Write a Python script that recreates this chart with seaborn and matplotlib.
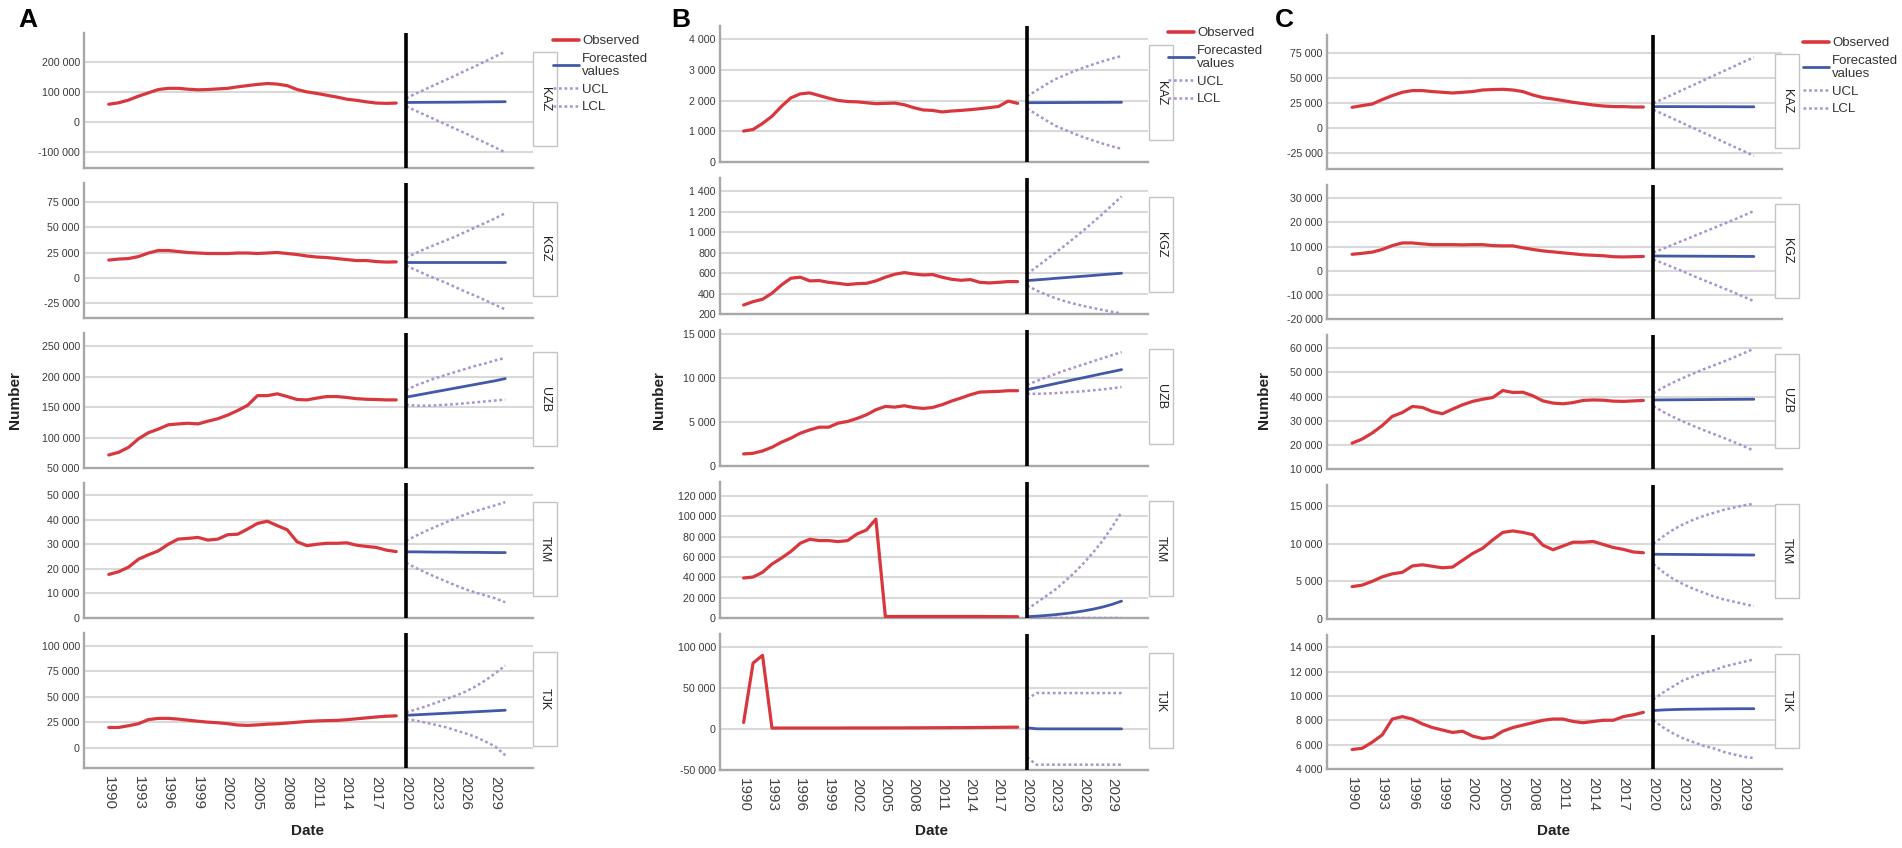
import matplotlib
matplotlib.use("Agg")
import matplotlib.pyplot as plt
import matplotlib.ticker as mticker
from matplotlib.lines import Line2D
from matplotlib.patches import Rectangle
import seaborn as sns
import pandas as pd

YEARS_OBS = list(range(1990, 2020))
YEARS_FC = list(range(2020, 2031))
COUNTRIES = ["KAZ", "KGZ", "UZB", "TKM", "TJK"]
XTICKS = list(range(1990, 2030, 3))

# ---------------- panel A ----------------
A_KAZ_OBS = [60000, 65000, 74000, 87000, 98000, 109000, 113000, 113000, 110000, 108000,
             109000, 111000, 113000, 118000, 122000, 126000, 129000, 127000, 122000, 109000,
             101000, 96000, 90000, 84000, 77000, 73000, 68000, 64000, 63000, 64000]
A_KAZ_FC = [66000, 66200, 66400, 66600, 66800, 67000, 67300, 67600, 67900, 68200, 68500]
A_KAZ_UCL = [80000, 96000, 111000, 126000, 141000, 156000, 172000, 187000, 203000, 219000, 235000]
A_KAZ_LCL = [53000, 38000, 23000, 8000, -7000, -22000, -37000, -53000, -68000, -84000, -100000]

A_KGZ_OBS = [17500, 18500, 19000, 21000, 24500, 27000, 27000, 26000, 25000, 24500,
             24000, 24000, 24000, 24500, 24500, 24000, 24500, 25000, 24000, 23000,
             21500, 20500, 20000, 19000, 18000, 17000, 17000, 16000, 15500, 15700]
A_KGZ_FC = [16000, 16000, 16000, 16000, 16000, 16000, 16000, 16000, 16000, 16000, 16000]
A_KGZ_UCL = [20000, 24500, 29000, 33000, 37000, 41000, 45500, 50000, 54500, 59000, 64000]
A_KGZ_LCL = [12000, 7500, 3000, -1000, -5000, -9500, -14000, -18000, -22500, -27000, -31500]

A_UZB_OBS = [71400, 75800, 84000, 98000, 108000, 114000, 121000, 122500, 123600, 122500,
             127000, 131000, 137000, 144500, 153000, 169000, 169000, 172000, 167500, 162600,
             162000, 165000, 167500, 167500, 166000, 164000, 163000, 162600, 162000, 162000]
A_UZB_FC = [166500, 169500, 172500, 175500, 178500, 181500, 184500, 187500, 190500, 193500, 197000]
A_UZB_UCL = [178000, 186000, 192000, 198000, 203000, 208000, 213000, 218000, 222000, 227000, 231000]
A_UZB_LCL = [154000, 152500, 152500, 153000, 154000, 155000, 156500, 158000, 159500, 161000, 162500]

A_TKM_OBS = [17800, 18900, 20800, 24000, 25800, 27400, 30100, 32200, 32500, 32900,
             31800, 32200, 34000, 34200, 36300, 38600, 39500, 37700, 36000, 31100,
             29500, 30100, 30500, 30500, 30700, 29700, 29200, 28800, 27700, 27100]
A_TKM_FC = [27000, 27000, 26950, 26900, 26900, 26850, 26800, 26800, 26750, 26700, 26700]
A_TKM_UCL = [31500, 33600, 35500, 37300, 39000, 40700, 42300, 43600, 44800, 46000, 47300]
A_TKM_LCL = [22500, 20400, 18500, 16700, 15000, 13300, 11700, 10400, 9200, 8000, 6400]

A_TJK_OBS = [19800, 19800, 21500, 23500, 27500, 28700, 28700, 28000, 26900, 25900,
             25000, 24400, 23500, 22200, 21800, 22300, 23000, 23400, 24100, 24900,
             25700, 26200, 26500, 26700, 27400, 28300, 29200, 30100, 30800, 31200]
A_TJK_FC = [31700, 32200, 32700, 33200, 33700, 34200, 34700, 35200, 35700, 36200, 36700]
A_TJK_UCL = [34700, 37500, 40500, 44000, 47500, 51000, 55000, 60000, 66000, 73000, 80500]
A_TJK_LCL = [28000, 26500, 24500, 22300, 20000, 17000, 14000, 10500, 6000, 1000, -7500]

# ---------------- panel B ----------------
B_KAZ_OBS = [1007, 1060, 1255, 1490, 1810, 2090, 2220, 2250, 2165, 2080,
             2005, 1970, 1960, 1930, 1900, 1910, 1920, 1865, 1770, 1695,
             1680, 1630, 1660, 1680, 1705, 1735, 1770, 1810, 1985, 1910]
B_KAZ_FC = [1930, 1932, 1934, 1935, 1936, 1938, 1940, 1941, 1942, 1944, 1945]
B_KAZ_UCL = [2140, 2330, 2520, 2700, 2830, 2960, 3075, 3180, 3280, 3370, 3450]
B_KAZ_LCL = [1740, 1550, 1360, 1180, 1050, 920, 805, 700, 600, 510, 430]

B_KGZ_OBS = [288, 321, 344, 403, 484, 550, 560, 524, 527, 510,
             500, 488, 497, 500, 524, 560, 589, 605, 592, 582,
             586, 560, 540, 530, 537, 510, 504, 510, 517, 517]
B_KGZ_FC = [527, 534, 541, 549, 556, 563, 570, 577, 585, 592, 599]
B_KGZ_UCL = [592, 660, 730, 800, 870, 945, 1020, 1100, 1180, 1265, 1350]
B_KGZ_LCL = [478, 430, 390, 355, 325, 300, 278, 258, 240, 222, 206]

B_UZB_OBS = [1370, 1445, 1710, 2130, 2700, 3160, 3725, 4105, 4410, 4410,
             4865, 5060, 5400, 5820, 6390, 6770, 6690, 6845, 6650, 6540,
             6650, 6960, 7375, 7720, 8100, 8400, 8440, 8480, 8555, 8555]
B_UZB_FC = [8670, 8900, 9130, 9360, 9590, 9820, 10040, 10270, 10500, 10720, 10950]
B_UZB_UCL = [9240, 9650, 10060, 10450, 10840, 11200, 11550, 11900, 12250, 12600, 12930]
B_UZB_LCL = [8210, 8200, 8230, 8280, 8350, 8420, 8500, 8600, 8700, 8830, 8970]

B_TKM_OBS = [39300, 40300, 44900, 53000, 58900, 65400, 73500, 77400, 76100, 76100,
             75100, 76100, 82600, 86500, 97200, 1500, 1500, 1500, 1500, 1500,
             1500, 1500, 1500, 1500, 1500, 1500, 1400, 1400, 1300, 1300]
B_TKM_FC = [1300, 1800, 2500, 3300, 4300, 5500, 7000, 8700, 10800, 13400, 16600]
B_TKM_UCL = [8500, 15000, 21500, 28000, 36000, 44500, 54000, 64500, 76000, 89500, 104000]
B_TKM_LCL = [200, 150, 100, 80, 60, 50, 40, 30, 25, 20, 15]

B_TJK_OBS = [8000, 80500, 90000, 1200, 1200, 1200, 1200, 1200, 1200, 1200,
             1200, 1300, 1300, 1300, 1300, 1400, 1400, 1400, 1500, 1500,
             1600, 1600, 1700, 1700, 1800, 1900, 2000, 2100, 2200, 2300]
B_TJK_FC = [1500, 300, 200, 200, 200, 200, 200, 200, 200, 200, 200]
B_TJK_UCL = [36600, 43900, 43900, 43900, 43900, 43900, 43900, 43900, 43900, 43900, 43900]
B_TJK_LCL = [-34600, -43500, -43500, -43500, -43500, -43500, -43500, -43500, -43500, -43500, -43500]

# ---------------- panel C ----------------
C_KAZ_OBS = [21000, 22700, 24300, 28700, 32700, 36000, 37700, 37700, 36700, 36000,
             35300, 36000, 36700, 38300, 38700, 39000, 38300, 36700, 33300, 30700,
             29300, 27700, 26000, 24700, 23300, 22300, 21700, 21700, 21300, 21300]
C_KAZ_FC = [21700, 21700, 21700, 21650, 21650, 21600, 21600, 21600, 21550, 21500, 21500]
C_KAZ_UCL = [25000, 29600, 34200, 38800, 43400, 48000, 52600, 57200, 61800, 66400, 71000]
C_KAZ_LCL = [18500, 14000, 9400, 4800, 200, -4400, -9000, -13600, -18200, -22800, -27400]

C_KGZ_OBS = [6800, 7200, 7700, 8800, 10400, 11500, 11500, 11100, 10800, 10800,
             10800, 10700, 10800, 10800, 10400, 10300, 10300, 9500, 8800, 8200,
             7800, 7400, 7000, 6600, 6400, 6200, 5800, 5700, 5800, 5900]
C_KGZ_FC = [6100, 6080, 6060, 6040, 6020, 6000, 5980, 5960, 5940, 5920, 5900]
C_KGZ_UCL = [7500, 9200, 10900, 12600, 14300, 16000, 17700, 19400, 21100, 22900, 24700]
C_KGZ_LCL = [4700, 3000, 1300, -400, -2200, -3900, -5600, -7300, -9000, -10800, -12600]

C_UZB_OBS = [20700, 22400, 24900, 28000, 31800, 33400, 35900, 35500, 33800, 32900,
             34800, 36600, 38000, 38900, 39600, 42500, 41700, 41800, 40300, 38200,
             37300, 37000, 37500, 38400, 38600, 38500, 38100, 38000, 38200, 38400]
C_UZB_FC = [38600, 38630, 38660, 38690, 38720, 38750, 38780, 38810, 38840, 38870, 38900]
C_UZB_UCL = [41400, 43800, 45900, 47800, 49600, 51300, 52900, 54500, 56200, 58000, 59800]
C_UZB_LCL = [36000, 33600, 31500, 29600, 27800, 26100, 24500, 22900, 21200, 19400, 17600]

C_TKM_OBS = [4300, 4500, 5000, 5600, 6000, 6200, 7050, 7200, 7000, 6800,
             6900, 7800, 8700, 9400, 10500, 11500, 11700, 11500, 11200, 9800,
             9200, 9700, 10200, 10200, 10300, 9900, 9500, 9250, 8900, 8800]
C_TKM_FC = [8600, 8590, 8580, 8570, 8560, 8550, 8540, 8530, 8520, 8510, 8500]
C_TKM_UCL = [10000, 11000, 11900, 12600, 13200, 13700, 14100, 14500, 14800, 15100, 15300]
C_TKM_LCL = [7300, 6200, 5300, 4600, 4000, 3500, 3000, 2600, 2300, 2000, 1700]

C_TJK_OBS = [5600, 5700, 6200, 6800, 8100, 8300, 8100, 7700, 7400, 7200,
             7000, 7100, 6700, 6500, 6600, 7100, 7400, 7600, 7800, 8000,
             8100, 8100, 7900, 7800, 7900, 8000, 8000, 8300, 8450, 8650]
C_TJK_FC = [8800, 8850, 8880, 8900, 8910, 8920, 8930, 8940, 8945, 8950, 8950]
C_TJK_UCL = [9700, 10300, 10800, 11300, 11600, 11900, 12100, 12400, 12600, 12800, 13000]
C_TJK_LCL = [8000, 7400, 6900, 6500, 6200, 5900, 5700, 5400, 5200, 5000, 4900]

SERIES = {
    ("A", "KAZ"): (A_KAZ_OBS, A_KAZ_FC, A_KAZ_UCL, A_KAZ_LCL),
    ("A", "KGZ"): (A_KGZ_OBS, A_KGZ_FC, A_KGZ_UCL, A_KGZ_LCL),
    ("A", "UZB"): (A_UZB_OBS, A_UZB_FC, A_UZB_UCL, A_UZB_LCL),
    ("A", "TKM"): (A_TKM_OBS, A_TKM_FC, A_TKM_UCL, A_TKM_LCL),
    ("A", "TJK"): (A_TJK_OBS, A_TJK_FC, A_TJK_UCL, A_TJK_LCL),
    ("B", "KAZ"): (B_KAZ_OBS, B_KAZ_FC, B_KAZ_UCL, B_KAZ_LCL),
    ("B", "KGZ"): (B_KGZ_OBS, B_KGZ_FC, B_KGZ_UCL, B_KGZ_LCL),
    ("B", "UZB"): (B_UZB_OBS, B_UZB_FC, B_UZB_UCL, B_UZB_LCL),
    ("B", "TKM"): (B_TKM_OBS, B_TKM_FC, B_TKM_UCL, B_TKM_LCL),
    ("B", "TJK"): (B_TJK_OBS, B_TJK_FC, B_TJK_UCL, B_TJK_LCL),
    ("C", "KAZ"): (C_KAZ_OBS, C_KAZ_FC, C_KAZ_UCL, C_KAZ_LCL),
    ("C", "KGZ"): (C_KGZ_OBS, C_KGZ_FC, C_KGZ_UCL, C_KGZ_LCL),
    ("C", "UZB"): (C_UZB_OBS, C_UZB_FC, C_UZB_UCL, C_UZB_LCL),
    ("C", "TKM"): (C_TKM_OBS, C_TKM_FC, C_TKM_UCL, C_TKM_LCL),
    ("C", "TJK"): (C_TJK_OBS, C_TJK_FC, C_TJK_UCL, C_TJK_LCL),
}

# y-axis limits and tick steps per subplot
YAXES = {
    ("A", "KAZ"): ((-152000, 297000), 100000),
    ("A", "KGZ"): ((-40000, 94000), 25000),
    ("A", "UZB"): ((50000, 272000), 50000),
    ("A", "TKM"): ((0, 55100), 10000),
    ("A", "TJK"): ((-20000, 112500), 25000),
    ("B", "KAZ"): ((0, 4430), 1000),
    ("B", "KGZ"): ((200, 1531), 200),
    ("B", "UZB"): ((0, 15450), 5000),
    ("B", "TKM"): ((0, 133700), 20000),
    ("B", "TJK"): ((-50000, 116000), 50000),
    ("C", "KAZ"): ((-40600, 93200), 25000),
    ("C", "KGZ"): ((-20000, 35500), 10000),
    ("C", "UZB"): ((10000, 65500), 10000),
    ("C", "TKM"): ((0, 17800), 5000),
    ("C", "TJK"): ((4000, 15000), 2000),
}

# layout in pixels: axes left/right, subplot tops, height, strip box left, legend anchor, labels
LAYOUT = {
    "A": dict(left=84, right=533, tops=[33, 183, 333, 483, 633], h=135, box=533,
              leg=(553, 35), num_x=15, date_x=307, letter_x=18),
    "B": dict(left=720, right=1148, tops=[26, 178, 330, 482, 634], h=136, box=1149,
              leg=(1168, 27), num_x=659, date_x=932, letter_x=671),
    "C": dict(left=1327, right=1782, tops=[35, 185, 335, 485, 635], h=134, box=1775,
              leg=(1803, 37), num_x=1264, date_x=1554, letter_x=1275),
}

RED = "#d8383d"
BLUE = "#4259a8"
PURPLE = "#a993d0"
GRID = "#d9d9d9"
SPINE = "#a8a8a8"
DOT = (0, (1.1, 1.1))

W, H = 1902, 848

rows = []
for (panel, country), (obs, fc, ucl, lcl) in SERIES.items():
    for yr, v in zip(YEARS_OBS, obs):
        rows.append((panel, country, "Observed", yr, v))
    for name, vals in (("Forecast", fc), ("UCL", ucl), ("LCL", lcl)):
        for yr, v in zip(YEARS_FC, vals):
            rows.append((panel, country, name, yr, v))
df = pd.DataFrame(rows, columns=["panel", "country", "series", "year", "value"])

sns.set_theme(style="white")
plt.rcParams["font.family"] = ["Liberation Sans", "DejaVu Sans"]

fig = plt.figure(figsize=(W / 100, H / 100), dpi=100)


def space_fmt(v, pos):
    return f"{v:,.0f}".replace(",", " ")


for panel, lay in LAYOUT.items():
    aw = lay["right"] - lay["left"]
    for i, country in enumerate(COUNTRIES):
        top = lay["tops"][i]
        ax = fig.add_axes([lay["left"] / W, 1 - (top + lay["h"]) / H, aw / W, lay["h"] / H])
        sub = df[(df.panel == panel) & (df.country == country)]

        sns.lineplot(data=sub[sub.series == "Observed"], x="year", y="value", ax=ax,
                     color=RED, lw=2.3, zorder=4)
        sns.lineplot(data=sub[sub.series == "UCL"], x="year", y="value", ax=ax,
                     color=PURPLE, lw=1.8, linestyle=DOT, zorder=3)
        sns.lineplot(data=sub[sub.series == "LCL"], x="year", y="value", ax=ax,
                     color=PURPLE, lw=1.8, linestyle=DOT, zorder=3)
        sns.lineplot(data=sub[sub.series == "Forecast"], x="year", y="value", ax=ax,
                     color=BLUE, lw=2.0, zorder=4)
        ax.axvline(2020, color="black", lw=2.6, zorder=5)

        (ylo, yhi), step = YAXES[(panel, country)]
        ax.set_xlim(1987.5, 2032.8)
        ax.set_ylim(ylo, yhi)
        ax.yaxis.set_major_locator(mticker.MultipleLocator(step))
        ax.yaxis.set_major_formatter(mticker.FuncFormatter(space_fmt))
        ax.yaxis.grid(True, color=GRID, lw=1.5)
        ax.xaxis.grid(False)
        ax.set_axisbelow(True)
        for s in ("top", "right"):
            ax.spines[s].set_visible(False)
        for s in ("left", "bottom"):
            ax.spines[s].set_color(SPINE)
            ax.spines[s].set_linewidth(1.7)
        ax.set_xlabel("")
        ax.set_ylabel("")
        ax.set_xticks(XTICKS)
        ax.tick_params(axis="y", length=0, labelsize=7.7, labelcolor="#3a3a3a", pad=3)
        if i == 4:
            ax.tick_params(axis="x", length=0, labelsize=11, labelcolor="#444444",
                           pad=6, labelrotation=-90)
        else:
            ax.tick_params(axis="x", length=0, labelbottom=False)

        # strip label box on the right
        bx = (lay["box"] - lay["left"]) / aw
        bw = 24 / aw
        ax.add_patch(Rectangle((bx, 0.16), bw, 0.70, transform=ax.transAxes,
                               facecolor="white", edgecolor="#c4c4c4", lw=1.0,
                               clip_on=False, zorder=6))
        ax.text(bx + bw / 2, 0.51, country, transform=ax.transAxes, rotation=-90,
                ha="center", va="center", fontsize=9, color="#222222", zorder=7)

    handles = [
        Line2D([], [], color=RED, lw=2.6),
        Line2D([], [], color=BLUE, lw=2.0),
        Line2D([], [], color=PURPLE, lw=1.8, linestyle=DOT),
        Line2D([], [], color=PURPLE, lw=1.8, linestyle=DOT),
    ]
    lx, ly = lay["leg"]
    fig.legend(handles, ["Observed", "Forecasted\nvalues", "UCL", "LCL"],
               loc="upper left", bbox_to_anchor=(lx / W, 1 - ly / H), frameon=False,
               fontsize=9.5, handlelength=2.0, handletextpad=0.2, labelspacing=0.4,
               borderpad=0, borderaxespad=0, labelcolor="#333333")

    fig.text(lay["num_x"] / W, 1 - 400 / H, "Number", rotation=90, ha="center",
             va="center", fontsize=11, fontweight="bold", color="#222222")
    fig.text(lay["date_x"] / W, 1 - 831 / H, "Date", ha="center", va="center",
             fontsize=11, fontweight="bold", color="#222222")
    fig.text(lay["letter_x"] / W, 1 - 20 / H, panel, ha="left", va="center",
             fontsize=19, fontweight="bold", color="black")

fig.savefig("out.png", dpi=100, facecolor="white")
